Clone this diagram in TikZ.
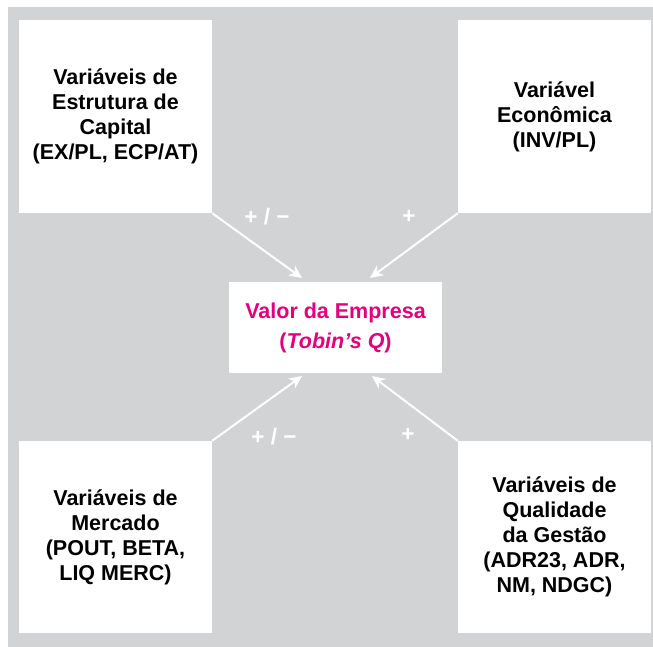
\documentclass[tikz,border=0pt]{standalone}
\usepackage{fontspec}
\setmainfont{Liberation Sans}
\usetikzlibrary{arrows.meta}
\definecolor{fundo}{RGB}{210,211,213}
\definecolor{rosa}{RGB}{230,0,126}
\tikzset{
  caixa/.style={fill=white, minimum width=193pt, minimum height=193pt, inner sep=0pt,
    align=center, font=\fontsize{21.5}{25}\selectfont\bfseries},
  centro/.style={fill=white, minimum width=213pt, minimum height=91pt, inner sep=0pt,
    align=center, text=rosa, font=\fontsize{21.5}{30}\selectfont\bfseries},
  seta/.style={draw=white, line width=2pt, -{Stealth[length=13pt,width=12pt]}},
  sinal/.style={text=white, inner sep=0pt, font=\fontsize{22.5}{25}\selectfont\bfseries}
}
\begin{document}
\begin{tikzpicture}[x=1pt,y=-1pt]
      \useasboundingbox (0,0) rectangle (653,647);
      \fill[fundo] (8,7) rectangle (653,647);
      % caixas
      \node[caixa] (capital) at (115.5,116.5) {Variáveis de\\Estrutura de\\Capital\\(EX/PL, ECP/AT)};
      \node[caixa] (economica) at (554.5,116.5) {Variável\\Econômica\\(INV/PL)};
      \node[caixa, minimum height=192pt] (mercado) at (115.5,537) {Variáveis de\\Mercado\\(POUT, BETA,\\LIQ MERC)};
      \node[caixa, minimum height=192pt] (gestao) at (554.5,537) {Variáveis de\\Qualidade\\da Gestão\\(ADR23, ADR,\\NM, NDGC)};
      \node[centro] (valor) at (335.5,327.5) {Valor da Empresa\\(\textit{Tobin's Q})};
      % pontas
      \coordinate (p1) at (302,278);
      \coordinate (p2) at (370,278);
      \coordinate (p3) at (302,376);
      \coordinate (p4) at (372,376);
      \begin{scope}[seta]
        \draw (capital.south east) -- (p1);
        \draw (economica.south west) -- (p2);
        \draw (mercado.north east) -- (p3);
        \draw (gestao.north west) -- (p4);
      \end{scope}
      \node[sinal] (s1) at (267,217) {+ / −};
      \node[sinal] (s2) at (409,217) {+};
      \node[sinal] (s3) at (274,437) {+ / −};
      \node[sinal] (s4) at (408,435) {+};
    \end{tikzpicture}
\end{document}
